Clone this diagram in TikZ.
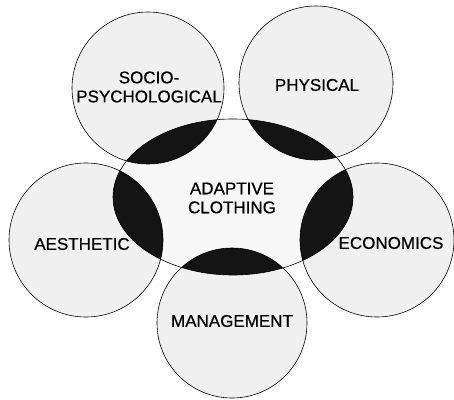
\documentclass[tikz,border=0pt]{standalone}
\usepackage{fontspec}
\setmainfont{Liberation Sans}
\newfontfamily\topicfont{Liberation Sans}[FakeBold=0.5]
\definecolor{dots}{gray}{0.94}
\definecolor{pale}{gray}{0.97}
\definecolor{lens}{gray}{0.08}
\begin{document}
\begin{tikzpicture}[x=1pt, y=1pt, line cap=round, line join=round, font=\topicfont\fontsize{17}{19}\selectfont]
				\tikzset{label style/.style={align=center, inner sep=0pt}}
				\useasboundingbox (0,0) rectangle (454,399);
				\def\core{(233,202) ellipse [x radius=120pt, y radius=78pt]}
				% topic circles
				\foreach\cx/\cy/\r in {148/311/76, 316/316/77, 86/159/77, 377/159/77, 232/76/75}
					\fill[dots] (\cx,\cy) circle (\r pt);
				\fill[pale] \core;
				% overlaps
				\begin{scope}
					\clip \core;
					\foreach\cx/\cy/\r in {148/311/76, 316/316/77, 86/159/77, 377/159/77, 232/76/75}
						\fill[lens] (\cx,\cy) circle (\r pt);
				\end{scope}
				\foreach\cx/\cy/\r in {148/311/76, 316/316/77, 86/159/77, 377/159/77, 232/76/75}
					\draw[line width=0.6pt] (\cx,\cy) circle (\r pt);
				\draw[line width=0.6pt] \core;
				\node[label style] (socio) at (149,312) {SOCIO-\\PSYCHOLOGICAL};
				\node[label style] (physical) at (317,314) {PHYSICAL};
				\node[label style] (adaptive) at (232,201) {ADAPTIVE\\CLOTHING};
				\node[label style] (aesthetic) at (82,155) {AESTHETIC};
				\node[label style] (economics) at (391,156) {ECONOMICS};
				\node[label style] (management) at (232,78) {MANAGEMENT};
\end{tikzpicture}
\end{document}
